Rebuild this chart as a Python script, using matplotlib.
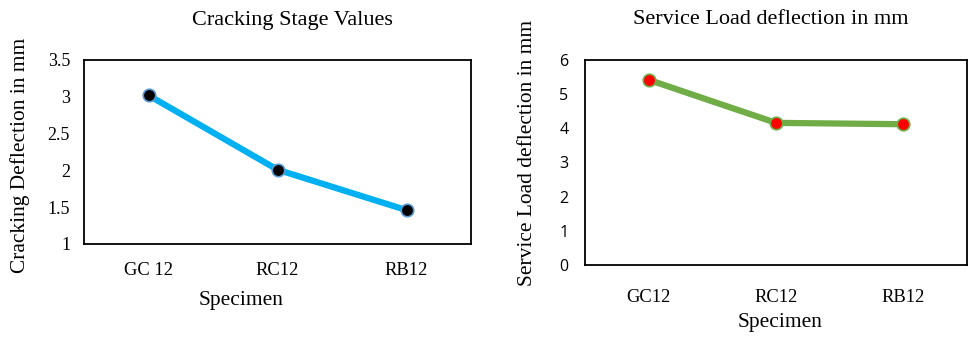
import matplotlib.pyplot as plt

# deflection values per specimen
crack_specimens = ["GC 12", "RC12", "RB12"]
crack_defl = [3.02, 2.01, 1.46]

service_specimens = ["GC12", "RC12", "RB12"]
service_defl = [5.42, 4.16, 4.12]

W, H = 970, 341
fig = plt.figure(figsize=(W / 100, H / 100), dpi=100)

serif = "Liberation Serif"
sans = "Open Sans"


def box(x0, y0, x1, y1):
    # pixel box -> figure fraction rect
    return [x0 / W, 1 - y1 / H, (x1 - x0) / W, (y1 - y0) / H]


def style_axes(ax):
    for s in ax.spines.values():
        s.set_linewidth(1.3)
        s.set_color("black")
    ax.tick_params(length=0)
    ax.set_xlim(-0.5, 2.5)


# --- cracking stage ---
ax1 = fig.add_axes(box(84, 60, 471, 244))
style_axes(ax1)
ax1.plot(range(len(crack_defl)), crack_defl, color="#00B0F0", lw=4.5,
         marker="o", ms=9, mfc="black", mec="#5B9BD5", mew=1.2, zorder=3)
ax1.set_ylim(1, 3.5)
ax1.set_yticks([1, 1.5, 2, 2.5, 3, 3.5])
ax1.set_yticklabels(["1", "1.5", "2", "2.5", "3", "3.5"], family=serif, fontsize=13)
ax1.set_xticks(range(len(crack_specimens)))
ax1.set_xticklabels(crack_specimens, family=serif, fontsize=13.3)
ax1.tick_params(axis="y", pad=10)
ax1.tick_params(axis="x", pad=13)
fig.text(292 / W, 1 - 20 / H, "Cracking Stage Values", family=serif,
         fontsize=16, ha="center", va="center")
fig.text(241 / W, 1 - 300 / H, "Specimen", family=serif, fontsize=15.5,
         ha="center", va="center")
fig.text(20 / W, 1 - 155 / H, "Cracking Deflection in mm", family=serif,
         fontsize=15.4, rotation=90, ha="center", va="center")

# --- service load ---
ax2 = fig.add_axes(box(585, 60, 967, 265))
style_axes(ax2)
ax2.plot(range(len(service_defl)), service_defl, color="#70AD47", lw=4.5,
         marker="o", ms=9, mfc="red", mec="#70AD47", mew=1.2, zorder=3)
ax2.set_ylim(0, 6)
ax2.set_yticks(range(0, 7))
ax2.set_yticklabels([str(v) for v in range(0, 7)], family=sans, fontsize=11.5)
ax2.set_xticks(range(len(service_specimens)))
ax2.set_xticklabels(service_specimens, family=serif, fontsize=13.3)
ax2.tick_params(axis="y", pad=12)
ax2.tick_params(axis="x", pad=17)
fig.text(771 / W, 1 - 19 / H, "Service Load deflection in mm", family=serif,
         fontsize=16, ha="center", va="center")
fig.text(780 / W, 1 - 322 / H, "Specimen", family=serif, fontsize=15.5,
         ha="center", va="center")
fig.text(528 / W, 1 - 153 / H, "Service Load deflection in mm", family=serif,
         fontsize=15.4, rotation=90, ha="center", va="center")

fig.savefig("out.png", dpi=100)
